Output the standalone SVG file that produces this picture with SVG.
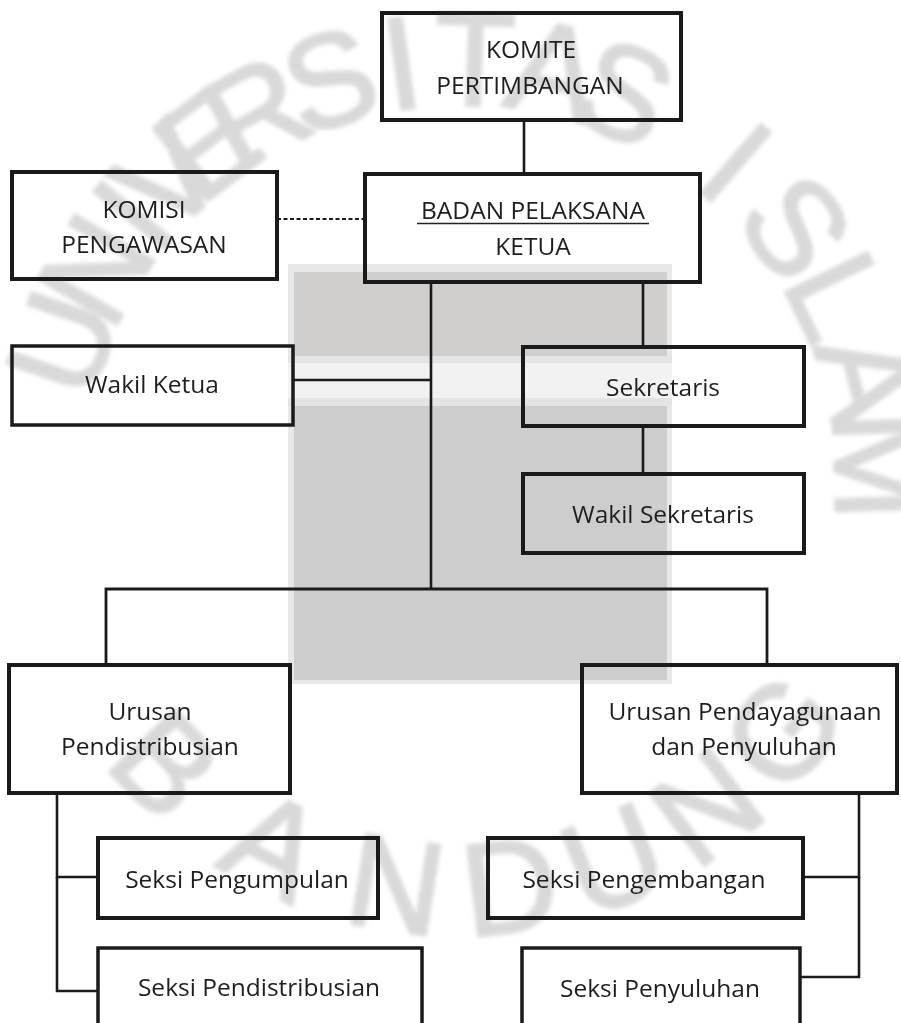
<svg xmlns="http://www.w3.org/2000/svg" width="901" height="1023" viewBox="0 0 901 1023">
<style>
.box{fill:none;stroke:#1a1a1a;stroke-width:4}
.box.thin{stroke-width:3.5}
.lbl{font-family:"Open Sans","Noto Sans","DejaVu Sans",sans-serif;font-size:24.5px;fill:#1e1e1e;text-anchor:middle}
.ln{fill:none;stroke:#1a1a1a;stroke-width:2.6}
.wm{font-family:"Liberation Sans",Arial,sans-serif;font-size:132px;fill:#d9d9d9;stroke:#d9d9d9;stroke-width:3;text-anchor:middle}
</style>
<defs>
<filter id="blur" x="-10%" y="-10%" width="120%" height="120%"><feGaussianBlur stdDeviation="2"/></filter>
</defs>
<rect width="901" height="1023" fill="#ffffff"/>
<g id="watermark" filter="url(#blur)">
<g class="wm">
<text x="460" y="105" transform="rotate(-71 460 480)">U</text>
<text x="460" y="105" transform="rotate(-60 460 480)">N</text>
<text x="460" y="105" transform="rotate(-51 460 480)">I</text>
<text x="460" y="105" transform="rotate(-44 460 480)">V</text>
<text x="460" y="105" transform="rotate(-37 460 480)">E</text>
<text x="460" y="105" transform="rotate(-29 460 480)">R</text>
<text x="460" y="105" transform="rotate(-18 460 480)">S</text>
<text x="460" y="105" transform="rotate(-8 460 480)">I</text>
<text x="460" y="105" transform="rotate(2 460 480)">T</text>
<text x="460" y="105" transform="rotate(13 460 480)">A</text>
<text x="460" y="105" transform="rotate(23 460 480)">S</text>
<text x="460" y="105" transform="rotate(41 460 480)">I</text>
<text x="460" y="105" transform="rotate(53 460 480)">S</text>
<text x="460" y="105" transform="rotate(64 460 480)">L</text>
<text x="460" y="105" transform="rotate(76 460 480)">A</text>
<text x="460" y="105" transform="rotate(88 460 480)">M</text>
<text x="460" y="935" transform="rotate(46 460 480)">B</text>
<text x="460" y="935" transform="rotate(27 460 480)">A</text>
<text x="460" y="935" transform="rotate(9 460 480)">N</text>
<text x="460" y="935" transform="rotate(-7 460 480)">D</text>
<text x="460" y="935" transform="rotate(-22 460 480)">U</text>
<text x="460" y="935" transform="rotate(-37 460 480)">N</text>
<text x="460" y="935" transform="rotate(-52 460 480)">G</text>
</g>
</g>
<g id="logo">
<rect x="288" y="264" width="384" height="420" fill="#e8e8e8"/>
<rect x="294" y="272" width="373" height="408" fill="#cdcdcd"/>
<rect x="294" y="272" width="373" height="85" fill="#d0cfcd"/>
<rect x="288" y="356" width="384" height="50" fill="#e4e4e4"/>
<rect x="288" y="363" width="384" height="35" fill="#f2f2f2"/>
</g>
<g id="connectors">
<line class="ln" x1="524" y1="120" x2="524" y2="174"/>
<line class="ln" x1="277" y1="219" x2="365" y2="219" stroke-dasharray="4 2.5" style="stroke-width:2"/>
<line class="ln" x1="431" y1="282" x2="431" y2="589"/>
<line class="ln" x1="293" y1="380" x2="431" y2="380"/>
<line class="ln" x1="643" y1="282" x2="643" y2="347"/>
<line class="ln" x1="643" y1="426" x2="643" y2="474"/>
<polyline class="ln" points="106,665 106,589 767,589 767,665" style="stroke-width:2.8"/>
<polyline class="ln" points="98,877 57,877 57,793"/>
<polyline class="ln" points="57,877 57,991 98,991"/>
<polyline class="ln" points="803,877 859,877 859,793"/>
<polyline class="ln" points="859,877 859,977 800,977"/>
</g>
<g id="komite">
<rect class="box" x="382" y="13" width="299" height="107"/>
<text class="lbl" x="531" y="58">KOMITE</text>
<text class="lbl" x="530" y="94">PERTIMBANGAN</text>
</g>
<g id="komisi">
<rect class="box" x="12" y="172" width="265" height="107"/>
<text class="lbl" x="144" y="218">KOMISI</text>
<text class="lbl" x="144" y="253">PENGAWASAN</text>
</g>
<g id="badan">
<rect class="box" x="365" y="174" width="335" height="108"/>
<text class="lbl" x="533" y="219">BADAN PELAKSANA</text>
<line x1="417" y1="223.5" x2="649" y2="223.5" stroke="#222" stroke-width="1.5"/>
<text class="lbl" x="533" y="255">KETUA</text>
</g>
<g id="wakil-ketua">
<rect class="box thin" x="12" y="346" width="281" height="79"/>
<text class="lbl" x="152" y="393">Wakil Ketua</text>
</g>
<g id="sekretaris">
<rect class="box" x="523" y="347" width="281" height="79"/>
<text class="lbl" x="663" y="396">Sekretaris</text>
</g>
<g id="wakil-sekretaris">
<rect class="box" x="523" y="474" width="281" height="79"/>
<text class="lbl" x="663" y="523">Wakil Sekretaris</text>
</g>
<g id="urusan-pendistribusian">
<rect class="box" x="9" y="665" width="281" height="128"/>
<text class="lbl" x="150" y="720">Urusan</text>
<text class="lbl" x="150" y="755">Pendistribusian</text>
</g>
<g id="urusan-pendayagunaan">
<rect class="box" x="582" y="665" width="315" height="128"/>
<text class="lbl" x="745" y="720">Urusan Pendayagunaan</text>
<text class="lbl" x="744" y="755">dan Penyuluhan</text>
</g>
<g id="seksi-pengumpulan">
<rect class="box" x="98" y="838" width="280" height="80"/>
<text class="lbl" x="237" y="888">Seksi Pengumpulan</text>
</g>
<g id="seksi-pendistribusian">
<rect class="box thin" x="98" y="948" width="324" height="90"/>
<text class="lbl" x="259" y="996">Seksi Pendistribusian</text>
</g>
<g id="seksi-pengembangan">
<rect class="box" x="488" y="838" width="315" height="80"/>
<text class="lbl" x="644" y="888">Seksi Pengembangan</text>
</g>
<g id="seksi-penyuluhan">
<rect class="box thin" x="522" y="948" width="278" height="90"/>
<text class="lbl" x="660" y="997">Seksi Penyuluhan</text>
</g>
</svg>
